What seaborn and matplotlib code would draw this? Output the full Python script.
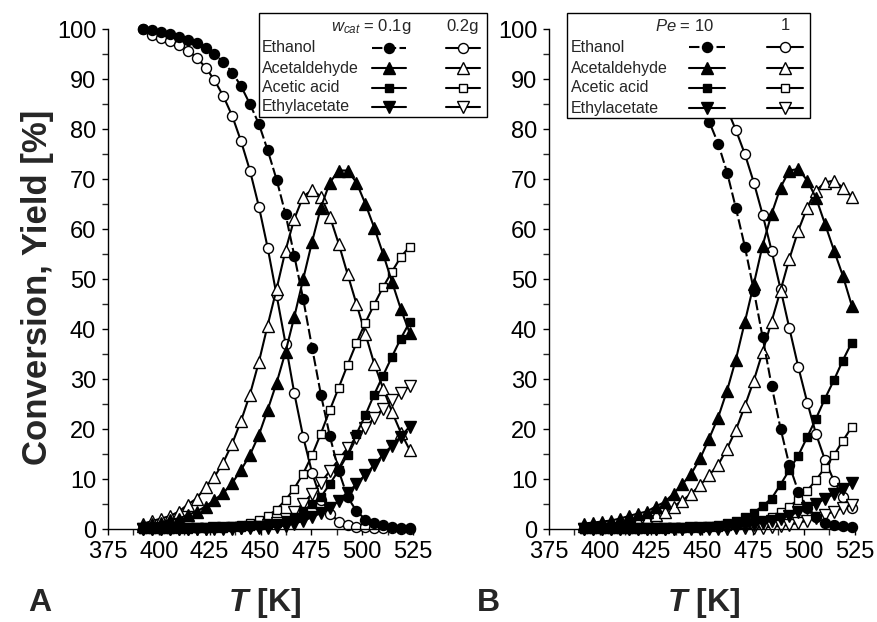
import matplotlib
matplotlib.use("Agg")
import matplotlib.pyplot as plt
import seaborn as sns
from matplotlib.lines import Line2D
from matplotlib.patches import Rectangle

# Reactor temperature grid [K]
temperature = [392.4, 396.8, 401.1, 405.5, 409.9, 414.2, 418.6, 423.0, 427.3, 431.7,
               436.1, 440.4, 444.8, 449.2, 453.5, 457.9, 462.3, 466.6, 471.0, 475.4,
               479.7, 484.1, 488.5, 492.8, 497.2, 501.6, 505.9, 510.3, 514.7, 519.0, 523.4]

# Panel A: catalyst mass w_cat = 0.1 g / 0.2 g
ethanol_01 = [100, 99.8, 99.5, 99.1, 98.5, 97.8, 97.2, 96.3, 95.0, 93.4, 91.3, 88.6, 85.0, 81.0,
              75.8, 69.9, 63.0, 54.7, 46.0, 36.2, 26.9, 18.6, 11.6, 6.4, 3.6, 1.9, 1.3, 0.8, 0.5, 0.3, 0.2]
ethanol_02 = [100, 98.9, 98.3, 97.6, 96.8, 95.7, 94.3, 92.3, 89.8, 86.6, 82.6, 77.6, 71.7, 64.5,
              56.3, 46.8, 37.1, 27.2, 18.4, 11.2, 5.9, 3.1, 1.5, 0.8, 0.5, 0.4, 0.3, 0.2, 0.2, 0.1, 0.1]
acetaldehyde_01 = [0.7, 1.0, 1.3, 1.8, 2.1, 2.8, 3.5, 4.5, 5.8, 7.2, 9.2, 11.8, 14.8, 18.8, 23.8,
                   29.2, 35.4, 42.4, 50.0, 57.5, 64.3, 69.3, 71.7, 71.7, 69.3, 65.0, 60.3, 55.0, 49.4, 44.0, 39.2]
acetaldehyde_02 = [1.1, 1.6, 2.1, 2.6, 3.5, 4.9, 6.1, 8.4, 10.4, 13.3, 17.1, 21.6, 26.9, 33.4, 40.7,
                   48.0, 55.7, 62.0, 66.5, 67.8, 66.5, 62.5, 57.0, 51.0, 45.0, 39.0, 33.1, 28.1, 23.4, 19.3, 15.8]
acetic_01 = [0.0, 0.0, 0.05, 0.05, 0.1, 0.1, 0.15, 0.2, 0.25, 0.3, 0.4, 0.5, 0.6, 0.8, 1.0, 1.3,
             1.8, 2.5, 3.6, 5.0, 6.4, 9.0, 11.8, 14.9, 19.0, 22.8, 26.9, 30.7, 34.5, 38.1, 41.4]
acetic_02 = [0.05, 0.05, 0.1, 0.1, 0.15, 0.2, 0.25, 0.3, 0.4, 0.5, 0.7, 0.9, 1.3, 1.8, 2.6, 3.9,
             5.8, 8.1, 11.1, 14.8, 19.1, 23.8, 28.3, 32.8, 37.2, 41.3, 44.9, 48.4, 51.5, 54.4, 56.5]
ethylacetate_01 = [0, 0, 0, 0, 0, 0.02, 0.03, 0.05, 0.05, 0.08, 0.1, 0.12, 0.15, 0.2, 0.3, 0.5,
                   0.7, 1.1, 1.6, 2.4, 3.2, 4.3, 5.6, 7.2, 9.0, 10.9, 12.8, 14.9, 16.7, 18.5, 20.5]
ethylacetate_02 = [0.02, 0.03, 0.04, 0.05, 0.06, 0.07, 0.08, 0.1, 0.12, 0.15, 0.2, 0.25, 0.35, 0.5,
                   0.8, 1.3, 2.1, 3.5, 5.1, 7.1, 9.3, 11.6, 13.9, 16.2, 18.3, 20.3, 22.2, 24.1, 25.8, 27.2, 28.6]

# Panel B: Peclet number Pe = 10 / 1
ethanol_pe10 = [100, 99.9, 99.8, 99.7, 99.5, 99.3, 99.0, 98.5, 97.8, 96.8, 95.3, 93.2, 90.4, 86.4,
                81.5, 77.1, 71.3, 64.2, 56.5, 47.7, 38.4, 28.7, 20.1, 12.8, 7.5, 4.3, 2.5, 1.3, 0.8, 0.6, 0.4]
ethanol_pe1 = [100, 99.9, 99.9, 99.8, 99.7, 99.5, 99.2, 98.9, 98.4, 97.8, 96.9, 95.8, 94.4, 92.6,
               90.3, 87.5, 84.0, 79.8, 75.0, 69.3, 62.9, 55.7, 48.0, 40.2, 32.4, 25.3, 19.0, 13.8, 9.6, 6.5, 4.2]
acetaldehyde_pe10 = [1.1, 1.3, 1.5, 1.7, 2.1, 2.6, 3.1, 3.5, 4.5, 5.4, 7.1, 9.0, 11.1, 14.2, 18.1,
                     22.3, 27.7, 33.9, 41.4, 49.0, 56.7, 63.0, 68.3, 71.7, 72.0, 69.7, 66.2, 61.0, 55.7, 50.7, 44.7]
acetaldehyde_pe1 = [0.6, 0.7, 0.8, 1.0, 1.2, 1.4, 1.7, 2.1, 2.8, 3.4, 4.5, 5.7, 7.1, 8.8, 10.8,
                    12.8, 16.1, 19.8, 24.6, 29.7, 35.4, 41.5, 47.7, 54.0, 59.7, 64.3, 67.7, 69.3, 69.7, 68.3, 66.5]
acetic_pe10 = [0, 0, 0.02, 0.03, 0.05, 0.07, 0.1, 0.12, 0.15, 0.2, 0.25, 0.3, 0.4, 0.5, 0.7, 0.9,
               1.2, 1.7, 2.4, 3.3, 4.6, 6.1, 8.9, 11.8, 14.7, 18.4, 22.1, 26.1, 29.8, 33.7, 37.3]
acetic_pe1 = [0, 0, 0.01, 0.02, 0.03, 0.04, 0.05, 0.06, 0.08, 0.1, 0.12, 0.15, 0.2, 0.25, 0.35, 0.45,
              0.6, 0.8, 1.0, 1.4, 1.8, 2.5, 3.4, 4.5, 5.9, 7.7, 9.8, 12.3, 14.8, 17.6, 20.4]
ethylacetate_pe10 = [0, 0, 0, 0, 0.01, 0.02, 0.03, 0.04, 0.05, 0.06, 0.08, 0.1, 0.12, 0.15, 0.2, 0.25,
                     0.35, 0.5, 0.7, 0.9, 1.2, 1.6, 2.1, 2.7, 3.4, 4.2, 5.1, 6.0, 7.0, 8.1, 9.2]
ethylacetate_pe1 = [0, 0, 0, 0, 0, 0, 0.01, 0.01, 0.02, 0.02, 0.03, 0.03, 0.04, 0.04, 0.05, 0.07,
                    0.09, 0.12, 0.16, 0.22, 0.3, 0.45, 0.6, 0.9, 1.2, 1.7, 2.3, 2.9, 3.5, 4.2, 4.9]

species = ["Ethanol", "Acetaldehyde", "Acetic acid", "Ethylacetate"]
panel_a = {"first": [ethanol_01, acetaldehyde_01, acetic_01, ethylacetate_01],
           "second": [ethanol_02, acetaldehyde_02, acetic_02, ethylacetate_02]}
panel_b = {"first": [ethanol_pe10, acetaldehyde_pe10, acetic_pe10, ethylacetate_pe10],
           "second": [ethanol_pe1, acetaldehyde_pe1, acetic_pe1, ethylacetate_pe1]}

# marker and size per species
markers = ["o", "^", "s", "v"]
msizes = [7.2, 8.6, 6.4, 8.6]
DASH = (0, (5, 1.6))

sns.set_style("ticks")
plt.rcParams["font.family"] = ["Liberation Sans", "DejaVu Sans"]
plt.rcParams["mathtext.fontset"] = "custom"
plt.rcParams["mathtext.rm"] = "Liberation Sans"
plt.rcParams["mathtext.it"] = "Liberation Sans:italic"
plt.rcParams["mathtext.bf"] = "Liberation Sans:bold"
plt.rcParams["mathtext.bfit"] = "Liberation Sans:italic:bold"

W, H = 878, 622
fig = plt.figure(figsize=(W / 100, H / 100), dpi=100)
fig.patch.set_facecolor("white")


def fx(px):
    return px / W


def fy(py):
    return 1 - py / H


ax_a = fig.add_axes([fx(108), fy(529), fx(413) - fx(108), fy(29) - fy(529)])
ax_b = fig.add_axes([fx(549), fy(529), fx(855) - fx(549), fy(29) - fy(529)])


def draw_panel(ax, panel):
    for group, filled in (("second", False), ("first", True)):
        for i, vals in enumerate(panel[group]):
            ls = DASH if (i == 0 and filled) else "-"
            sns.lineplot(x=temperature, y=vals, ax=ax, color="black", linewidth=1.5,
                         linestyle=ls, marker=markers[i], markersize=msizes[i],
                         markerfacecolor="black" if filled else "white",
                         markeredgecolor="black", markeredgewidth=1.0,
                         clip_on=False, legend=False, zorder=3 if filled else 2)
    ax.set_xlim(375, 525)
    ax.set_ylim(0, 100)
    ax.set_xticks([375, 400, 425, 450, 475, 500, 525])
    ax.set_xticks([387.5, 412.5, 437.5, 462.5, 487.5, 512.5], minor=True)
    ax.set_yticks(range(0, 101, 10))
    ax.set_yticks(range(5, 100, 10), minor=True)
    ax.tick_params(which="major", direction="out", length=4.5, width=1.0,
                   labelsize=17, colors="black", pad=4)
    ax.tick_params(which="minor", direction="out", length=4.0, width=1.0)
    for side in ("top", "right"):
        ax.spines[side].set_visible(False)
    for side in ("left", "bottom"):
        ax.spines[side].set_linewidth(1.0)
        ax.spines[side].set_color("black")
    ax.set_xlabel("")
    ax.set_ylabel("")
    ax.set_facecolor("none")


draw_panel(ax_a, panel_a)
draw_panel(ax_b, panel_b)


def draw_key(box, label_x, rows_y, col_centers, half_len, header, header_right_x, header2):
    x0, y0, x1, y1 = box
    fig.add_artist(Rectangle((fx(x0), fy(y1)), fx(x1) - fx(x0), fy(y0) - fy(y1),
                             transform=fig.transFigure, facecolor="white",
                             edgecolor="black", linewidth=1.0, zorder=10))
    fig.text(fx(header_right_x), fy(rows_y[0] - 21), header, ha="right", va="center",
             fontsize=12, zorder=11)
    fig.text(fx(col_centers[1]), fy(rows_y[0] - 21), header2, ha="center", va="center",
             fontsize=12, zorder=11)
    for i, (name, ry) in enumerate(zip(species, rows_y)):
        fig.text(fx(label_x), fy(ry), name, ha="left", va="center", fontsize=11.5, zorder=11)
        for c, filled in zip(col_centers, (True, False)):
            ls = DASH if (i == 0 and filled) else "-"
            fig.add_artist(Line2D([fx(c - half_len), fx(c), fx(c + half_len)], [fy(ry)] * 3,
                                  transform=fig.transFigure, color="black", linewidth=1.5,
                                  linestyle=ls, marker=markers[i], markersize=msizes[i],
                                  markevery=[1], markerfacecolor="black" if filled else "white",
                                  markeredgecolor="black", markeredgewidth=1.0, zorder=11))


draw_key((259, 13, 487, 117), 262, [48, 68, 88, 107], [389, 463], 17,
         r"$w_{cat}$ = 0.1g", 411, "0.2g")
draw_key((567, 13, 810, 118), 571, [47, 68, 88, 108], [707, 785], 18,
         r"$Pe$ = 10", 714, "1")

fig.text(fx(38), fy(287), "Conversion, Yield [%]", rotation=90, ha="center", va="center",
         fontsize=25, fontweight="bold")
fig.text(fx(40), fy(603), "A", ha="center", va="center", fontsize=23, fontweight="bold")
fig.text(fx(488), fy(603), "B", ha="center", va="center", fontsize=23, fontweight="bold")
fig.text(fx(265), fy(603), r"$\mathbfit{T}$ [K]", ha="center", va="center", fontsize=23,
         fontweight="bold")
fig.text(fx(704), fy(603), r"$\mathbfit{T}$ [K]", ha="center", va="center", fontsize=23,
         fontweight="bold")

fig.savefig("out.png", dpi=100, facecolor="white")
